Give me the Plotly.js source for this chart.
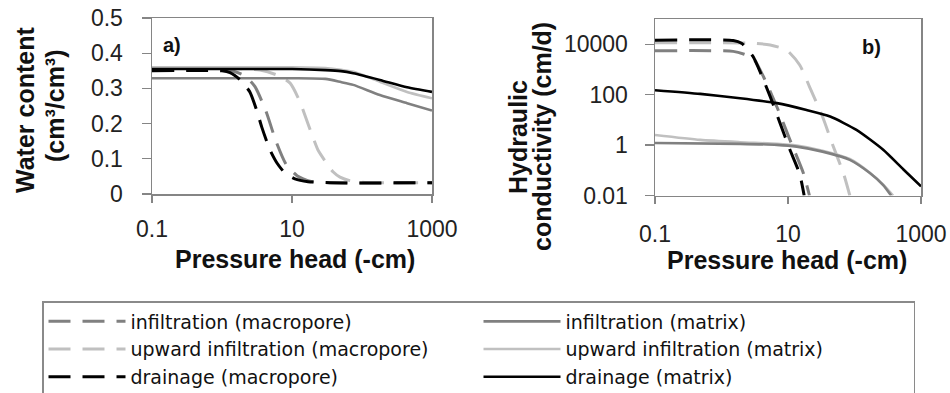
<!DOCTYPE html>
<html>
<head>
<meta charset="utf-8">
<script src="https://cdn.plot.ly/plotly-3.0.1.min.js"></script>
<style>html,body{margin:0;padding:0;background:#fff;}#chart{width:950px;height:393px;}</style>
</head>
<body>
<div id="chart"></div>
<script>
// ---------- Data ----------
// Panel a: water content (cm3/cm3) vs pressure head (-cm)
const hA_infMacro   = [0.1, 1, 1.5, 2.14, 2.96, 4.25, 5.9, 8.2, 11.8, 18, 35, 1000];
const thA_infMacro  = [0.352, 0.352, 0.348, 0.335, 0.305, 0.235, 0.15, 0.085, 0.052, 0.036, 0.032, 0.032];
const hA_upMacro    = [0.1, 2, 3.5, 6.1, 9.4, 13, 15.3, 20, 23.5, 30.6, 38.5, 48.5, 67, 110, 1000];
const thA_upMacro   = [0.356, 0.356, 0.352, 0.338, 0.315, 0.262, 0.224, 0.16, 0.125, 0.09, 0.063, 0.048, 0.038, 0.033, 0.032];
const hA_drainMacro = [0.1, 1, 1.3, 1.8, 2.5, 3.16, 3.7, 4.85, 6.1, 7.9, 11, 17, 35, 1000];
const thA_drainMacro= [0.35, 0.35, 0.345, 0.325, 0.29, 0.235, 0.19, 0.125, 0.088, 0.06, 0.043, 0.035, 0.032, 0.032];
const hA_matrix     = [0.1, 10, 30, 50, 75, 180, 440, 1000];
const thA_infMat    = [0.329, 0.329, 0.327, 0.318, 0.31, 0.281, 0.258, 0.237];
const thA_upMat     = [0.36, 0.36, 0.358, 0.353, 0.347, 0.319, 0.29, 0.272];
const thA_drainMat  = [0.355, 0.355, 0.352, 0.349, 0.343, 0.324, 0.303, 0.29];

// Panel b: hydraulic conductivity (cm/d) vs pressure head (-cm)
const hB_infMacro   = [0.1, 1.5, 2.2, 3.0, 4.3, 6.8, 10.7, 17, 21];
const kB_infMacro   = [5500, 5200, 4000, 2800, 500, 33, 1.6, 0.078, 0.01];
const hB_upMacro    = [0.1, 3, 5.4, 9.5, 15, 21, 33, 48, 68, 85];
const kB_upMacro    = [11500, 11000, 9300, 5900, 1500, 210, 13.5, 0.87, 0.078, 0.01];
const hB_drainMacro = [0.1, 1.5, 2.0, 2.4, 3.0, 3.8, 5.4, 7.6, 10.7, 15, 17.5];
const kB_drainMacro = [14500, 14000, 11000, 6900, 3160, 813, 83, 7.4, 0.65, 0.07, 0.01];
const hB_infMat     = [0.1, 1.9, 6.8, 13.5, 33, 85, 170, 270, 355];
const kB_infMat     = [1.2, 1.12, 1.02, 0.87, 0.55, 0.26, 0.078, 0.026, 0.01];
const hB_upMat      = [0.1, 0.48, 1.9, 6.8, 13.5, 33, 85, 170, 270, 380];
const kB_upMat      = [2.5, 1.6, 1.3, 1.12, 0.95, 0.6, 0.28, 0.08, 0.027, 0.01];
const hB_drainMat   = [0.1, 0.48, 1.9, 6.8, 19, 43, 107, 270, 540, 1000];
const kB_drainMat   = [150, 107, 72, 46, 24.5, 13.5, 4, 0.65, 0.11, 0.023];

// Tick labels
const xTickVals = [0.1, 10, 1000];
const xTickText = ['0.1', '10', '1000'];
const yATickVals = [0, 0.1, 0.2, 0.3, 0.4, 0.5];
const yATickText = ['0', '0.1', '0.2', '0.3', '0.4', '0.5'];
const yBTickVals = [0.01, 1, 100, 10000];
const yBTickText = ['0.01', '1', '100', '10000'];

// Legend names
const names = ['infiltration (macropore)', 'infiltration (matrix)',
               'upward infiltration (macropore)', 'upward infiltration (matrix)',
               'drainage (macropore)', 'drainage (matrix)'];

// ---------- Styles ----------
const C_MED = '#808080', C_LIGHT = '#c0c0c0', C_BLACK = '#000000';
const DASH = '22px,12px';
const W = 950, H = 393;

function tr(x, y, xa, ya, name, color, dashed, rank, show) {
  return {
    x: x, y: y, xaxis: xa, yaxis: ya, type: 'scatter', mode: 'lines',
    name: name, legendgroup: name, showlegend: show, legendrank: rank,
    line: {color: color, width: dashed ? 3 : 2.6, dash: dashed ? DASH : 'solid', shape: 'spline', smoothing: 0.6},
    hoverinfo: 'skip'
  };
}

const data = [
  // panel a
  tr(hA_upMacro, thA_upMacro, 'x', 'y', names[2], C_LIGHT, true, 3, true),
  tr(hA_matrix, thA_upMat, 'x', 'y', names[3], C_LIGHT, false, 4, true),
  tr(hA_infMacro, thA_infMacro, 'x', 'y', names[0], C_MED, true, 1, true),
  tr(hA_matrix, thA_infMat, 'x', 'y', names[1], C_MED, false, 2, true),
  tr(hA_drainMacro, thA_drainMacro, 'x', 'y', names[4], C_BLACK, true, 5, true),
  tr(hA_matrix, thA_drainMat, 'x', 'y', names[5], C_BLACK, false, 6, true),
  // panel b
  tr(hB_upMacro, kB_upMacro, 'x2', 'y2', names[2], C_LIGHT, true, 3, false),
  tr(hB_upMat, kB_upMat, 'x2', 'y2', names[3], C_LIGHT, false, 4, false),
  tr(hB_infMacro, kB_infMacro, 'x2', 'y2', names[0], C_MED, true, 1, false),
  tr(hB_infMat, kB_infMat, 'x2', 'y2', names[1], C_MED, false, 2, false),
  tr(hB_drainMacro, kB_drainMacro, 'x2', 'y2', names[4], C_BLACK, true, 5, false),
  tr(hB_drainMat, kB_drainMat, 'x2', 'y2', names[5], C_BLACK, false, 6, false)
];

const FONT = 'Arial, "Liberation Sans", sans-serif';
const tickFont = {family: FONT, size: 23, color: '#222'};
const axLine = '#858585';

function px2x(p) { return p / W; }
function px2y(p) { return 1 - p / H; }

const baseX = {
  type: 'log', range: [-1, 3], tickvals: xTickVals, ticktext: xTickText,
  ticks: 'outside', ticklen: 7, tickcolor: axLine, tickwidth: 1.3,
  showline: true, mirror: true, linecolor: axLine, linewidth: 1.5,
  showgrid: false, zeroline: false, tickfont: tickFont, ticklabelstandoff: 7,
  automargin: false
};

const layout = {
  width: W, height: H,
  margin: {l: 0, r: 0, t: 0, b: 0, pad: 0, autoexpand: false},
  paper_bgcolor: '#fff', plot_bgcolor: '#fff',
  showlegend: true,
  xaxis: Object.assign({}, baseX, {domain: [px2x(152), px2x(432)], anchor: 'y'}),
  yaxis: {
    domain: [px2y(194), px2y(18)], anchor: 'x', range: [0, 0.5],
    tickvals: yATickVals, ticktext: yATickText,
    ticks: 'outside', ticklen: 9, tickcolor: axLine, tickwidth: 1.3,
    showline: true, mirror: true, linecolor: axLine, linewidth: 1.5,
    showgrid: false, zeroline: false, tickfont: tickFont, ticklabelstandoff: 14,
    automargin: false
  },
  xaxis2: Object.assign({}, baseX, {domain: [px2x(655), px2x(921)], anchor: 'y2', ticklabelstandoff: 10}),
  yaxis2: {
    domain: [px2y(195.5), px2y(19)], anchor: 'x2', type: 'log', range: [-2, 5],
    tickvals: yBTickVals, ticktext: yBTickText,
    ticks: 'outside', ticklen: 9, tickcolor: axLine, tickwidth: 1.3,
    showline: true, mirror: true, linecolor: axLine, linewidth: 1.5,
    showgrid: false, zeroline: false, tickfont: tickFont, ticklabelstandoff: 12,
    automargin: false
  },
  yaxis3: {
    overlaying: 'y', anchor: 'x', side: 'left', range: [0, 0.5],
    tickvals: yATickVals, ticks: 'inside', ticklen: 6, tickcolor: axLine, tickwidth: 1.3,
    showticklabels: false, showline: false, showgrid: false, zeroline: false
  },
  yaxis4: {
    overlaying: 'y2', anchor: 'x2', side: 'left', type: 'log', range: [-2, 5],
    tickvals: yBTickVals, ticks: 'inside', ticklen: 6, tickcolor: axLine, tickwidth: 1.3,
    showticklabels: false, showline: false, showgrid: false, zeroline: false
  },
  legend: {
    orientation: 'h', x: px2x(42), xanchor: 'left', y: px2y(301), yanchor: 'top',
    entrywidth: 343, itemwidth: 77, traceorder: 'normal',
    font: {family: '"DejaVu Sans", sans-serif', size: 19, color: '#111'},
    bgcolor: '#fff', bordercolor: '#8a8a8a', borderwidth: 1.5,
    itemclick: false, itemdoubleclick: false
  },
  annotations: [
    {text: '<b>Water content</b>', x: px2x(25), y: px2y(110), textangle: -90},
    {text: '<b>(cm³/cm³)</b>', x: px2x(55), y: px2y(106), textangle: -90},
    {text: '<b>Hydraulic</b>', x: px2x(518), y: px2y(137), textangle: -90},
    {text: '<b>conductivity (cm/d)</b>', x: px2x(542), y: px2y(137), textangle: -90},
    {text: '<b>Pressure head (-cm)</b>', x: px2x(295), y: px2y(259)},
    {text: '<b>Pressure head (-cm)</b>', x: px2x(787), y: px2y(260)},
    {text: '<b>a)</b>', x: px2x(172), y: px2y(45), size: 20},
    {text: '<b>b)</b>', x: px2x(871), y: px2y(47), size: 20}
  ].map(a => ({
    text: a.text, x: a.x, y: a.y, xref: 'paper', yref: 'paper',
    xanchor: 'center', yanchor: 'middle', showarrow: false,
    textangle: a.textangle || 0,
    font: {family: FONT, size: a.size || 25, color: '#111'}
  }))
};

Plotly.newPlot('chart', data, layout, {staticPlot: true, displayModeBar: false});
</script>
</body>
</html>
